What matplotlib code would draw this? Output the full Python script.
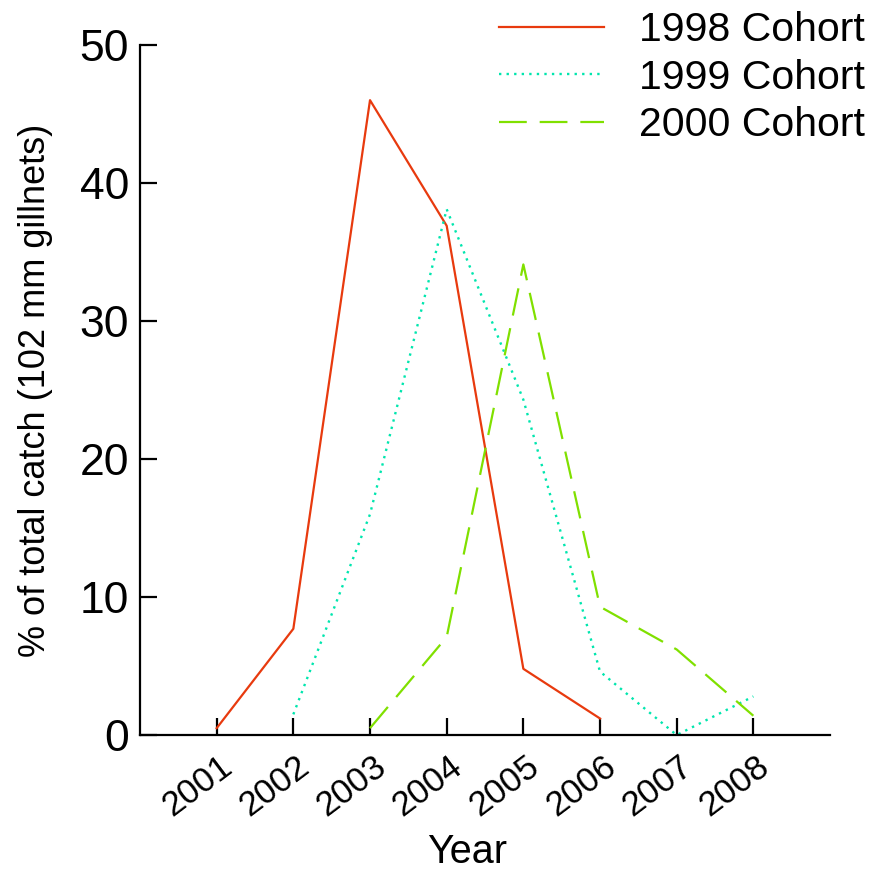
import matplotlib
matplotlib.use("Agg")
import matplotlib.pyplot as plt
from matplotlib.transforms import ScaledTranslation

plt.rcParams['font.family'] = ['Liberation Sans', 'DejaVu Sans']

years_1998 = [2001, 2002, 2003, 2004, 2005, 2006]
pct_1998 = [0.5, 7.7, 46.0, 36.9, 4.8, 1.2]

years_1999 = [2002, 2003, 2004, 2005, 2006, 2007, 2008]
pct_1999 = [1.5, 16.0, 38.1, 24.3, 4.6, 0.0, 2.8]

years_2000 = [2003, 2004, 2005, 2006, 2007, 2008]
pct_2000 = [0.5, 7.1, 34.1, 9.3, 6.2, 1.4]

tick_years = [2001, 2002, 2003, 2004, 2005, 2006, 2007, 2008]
y_ticks = [0, 10, 20, 30, 40, 50]

fig = plt.figure(figsize=(8.75, 8.73), dpi=100)
ax = fig.add_axes([0.16, 0.158, 0.7886, 0.7905])

ax.plot(years_1998, pct_1998, color='#E83A0E', lw=1.6, label='1998 Cohort')
ax.plot(years_1999, pct_1999, color='#00E6AE', lw=1.7, dashes=(1.0, 2.2),
        label='1999 Cohort')
ax.plot(years_2000, pct_2000, color='#80E000', lw=1.6, dashes=(12.5, 5.8),
        label='2000 Cohort')

ax.set_xlim(2000, 2009)
ax.set_ylim(0, 50)
ax.set_xticks(tick_years)
ax.set_xticklabels([str(y) for y in tick_years])
ax.set_yticks(y_ticks)

for s in ['top', 'right']:
    ax.spines[s].set_visible(False)
for s in ['left', 'bottom']:
    ax.spines[s].set_linewidth(1.6)

ax.tick_params(axis='both', direction='in', length=12, width=1.6)
ax.tick_params(axis='y', labelsize=32, pad=8)
ax.tick_params(axis='x', labelsize=25, pad=6)

offset = ScaledTranslation(2 / 100, -6 / 100, fig.dpi_scale_trans)
for lab in ax.get_xticklabels():
    lab.set_rotation(37)
    lab.set_ha('right')
    lab.set_va('top')
    lab.set_rotation_mode('anchor')
    lab.set_transform(lab.get_transform() + offset)

ax.set_xlabel('Year', fontsize=28.5, labelpad=14)
ax.xaxis.set_label_coords(0.474, -0.142)
ax.set_ylabel('% of total catch (102 mm gillnets)', fontsize=26, labelpad=19)

leg = ax.legend(loc='upper right', bbox_to_anchor=(0.998, 0.9965),
                bbox_transform=fig.transFigure, frameon=False, fontsize=29.5,
                handlelength=2.56, handletextpad=0.85, labelspacing=0.23,
                borderaxespad=0.1, borderpad=0.1)

fig.savefig('out.png', dpi=100)
